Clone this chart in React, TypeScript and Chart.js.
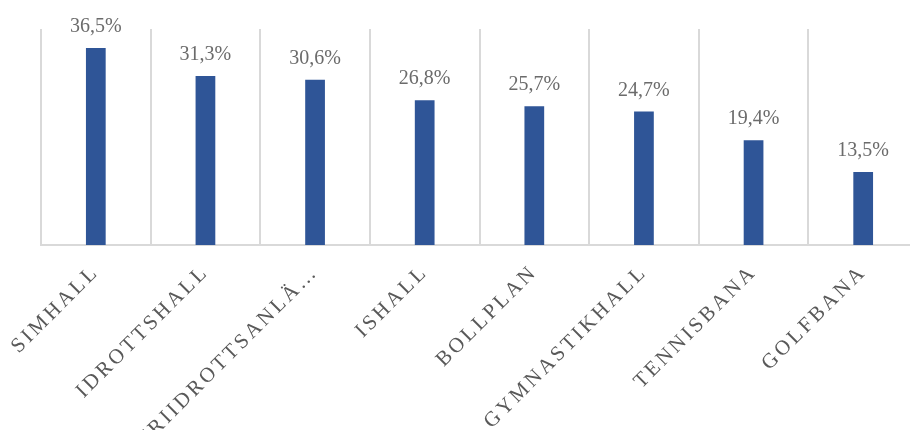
import React, { useEffect, useRef } from "react";
import { Chart, registerables } from "chart.js";

Chart.register(...registerables);

const categories = [
  "SIMHALL",
  "IDROTTSHALL",
  "FRIIDROTTSANLÄ…",
  "ISHALL",
  "BOLLPLAN",
  "GYMNASTIKHALL",
  "TENNISBANA",
  "GOLFBANA",
];
const values = [36.5, 31.3, 30.6, 26.8, 25.7, 24.7, 19.4, 13.5];
const yMin = 0;
const yMax = 40;

const fmt = (v: number) => v.toFixed(1).replace(".", ",") + "%";

const spacingPlugin = {
  id: "letterSpacingPlugin",
  beforeDraw(chart: any) {
    chart.ctx.letterSpacing = "3px";
  },
  beforeDatasetsDraw(chart: any) {
    chart.ctx.letterSpacing = "0px";
  },
};

const valueLabels = {
  id: "valueLabels",
  afterDatasetsDraw(chart: any) {
    const ctx = chart.ctx;
    const meta = chart.getDatasetMeta(0);
    ctx.save();
    ctx.letterSpacing = "0px";
    ctx.font = '20px "Liberation Serif"';
    ctx.fillStyle = "#6b6b6b";
    ctx.textAlign = "center";
    ctx.textBaseline = "alphabetic";
    meta.data.forEach((bar: any, i: number) => {
      ctx.fillText(fmt(values[i]), bar.x, bar.y - 16);
    });
    ctx.restore();
  },
};

export default function App() {
  const ref = useRef<HTMLCanvasElement | null>(null);

  useEffect(() => {
    if (!ref.current) return;
    const chart = new Chart(ref.current, {
      type: "bar",
      data: {
        labels: categories,
        datasets: [
          {
            data: values,
            backgroundColor: "#2f5597",
            borderWidth: 0,
            barPercentage: 0.18,
            categoryPercentage: 1,
          },
        ],
      },
      options: {
        responsive: false,
        animation: false,
        devicePixelRatio: 1,
        layout: { padding: { left: 41, top: 29, right: 0, bottom: 0 } },
        plugins: {
          legend: { display: false },
          tooltip: { enabled: false },
        },
        scales: {
          y: { display: false, min: yMin, max: yMax },
          x: {
            grid: {
              display: true,
              color: "#d9d9d9",
              lineWidth: 2,
              drawTicks: false,
              offset: true,
            },
            border: { display: true, color: "#d9d9d9", width: 2 },
            ticks: {
              color: "#595959",
              font: { family: "Liberation Serif", size: 21 },
              minRotation: 45,
              maxRotation: 45,
              padding: 15,
              autoSkip: false,
            },
            afterFit(scale: any) {
              scale.paddingLeft = 0;
              scale.paddingRight = 0;
              scale.height = 185;
            },
          },
        },
      },
      plugins: [spacingPlugin, valueLabels],
    });
    return () => chart.destroy();
  }, []);

  return (
    <div
      style={{
        position: "fixed",
        left: 0,
        top: 0,
        width: 910,
        height: 430,
        overflow: "hidden",
        background: "#ffffff",
      }}
    >
      <canvas ref={ref} width={918} height={430} style={{ display: "block" }} />
    </div>
  );
}
